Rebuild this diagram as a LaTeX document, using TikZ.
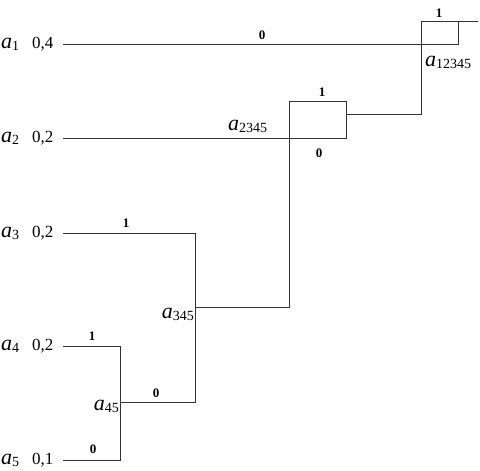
\documentclass[tikz,border=0pt]{standalone}
\usepackage{fontspec}
\setmainfont{Liberation Serif}
\usepackage{tikz}
\usetikzlibrary{positioning}
\newcommand{\av}[1]{{\fontsize{22}{24}\selectfont\itshape a}\raisebox{-2.5pt}{\fontsize{14}{16}\selectfont #1}}
\tikzset{
  leaf/.style={inner sep=0pt,anchor=base west,font=\fontsize{17}{19}\selectfont},
  merge/.style={leaf},
  mergeR/.style={leaf,anchor=base east},
  bit/.style={inner sep=0pt,anchor=base,font=\fontsize{13}{15}\selectfont\bfseries},
  wire/.style={line width=0.9pt,black!80},
}
\begin{document}
\begin{tikzpicture}[x=1pt,y=-1pt]
  \useasboundingbox (0,0) rectangle (480,471);
  % symbols and probabilities
  \node[leaf] (nA1) at (1,48) {\av{1}};
  \node[leaf] (nP1) at (32,48) {0,4};
  \node[leaf] (nA2) at (1,142) {\av{2}};
  \node[leaf] (nP2) at (32,142) {0,2};
  \node[leaf] (nA3) at (1,237) {\av{3}};
  \node[leaf] (nP3) at (32,237) {0,2};
  \node[leaf] (nA4) at (1,350) {\av{4}};
  \node[leaf] (nP4) at (32,350) {0,2};
  \node[leaf] (nA5) at (1,464) {\av{5}};
  \node[leaf] (nP5) at (32,464) {0,1};
  \coordinate (s1) at (63,44);
  \coordinate (s2) at (63,138);
  \coordinate (s3) at (63,233);
  \coordinate (s4) at (63,346);
  \coordinate (s5) at (63,460);
  % merge points
  \coordinate (c45a) at (120,346);
  \coordinate (c45b) at (120,460);
  \coordinate (m45) at (120,402);
  \coordinate (c345a) at (195,233);
  \coordinate (c345b) at (195,402);
  \coordinate (m345) at (195,307);
  \coordinate (b2345) at (289,307);
  \coordinate (t2345) at (289,101);
  \coordinate (tr2345) at (346,101);
  \coordinate (br2345) at (346,138);
  \coordinate (m2345) at (346,114);
  \coordinate (c12345) at (421,114);
  \coordinate (t12345) at (421,21);
  \coordinate (out) at (478,21);
  \coordinate (r1) at (458,44);
  \coordinate (rt1) at (458,21);
  \draw[wire] (s4) -- (c45a) -- (c45b) -- (s5);
  \draw[wire] (m45) -- (c345b) -- (c345a) -- (s3);
  \draw[wire] (m345) -- (b2345) -- (t2345) -- (tr2345) -- (br2345) -- (s2);
  \draw[wire] (m2345) -- (c12345) -- (t12345) -- (out);
  \draw[wire] (s1) -- (r1) -- (rt1);
  % merged symbols
  \node[merge] (nA12345) at (425,66) {\av{12345}};
  \node[merge] (nA2345) at (228,130) {\av{2345}};
  \node[mergeR] (nA345) at (194,318) {\av{345}};
  \node[mergeR] (nA45) at (119,410) {\av{45}};
  % code bits
  \node[bit] (b1) at (262,39) {0};
  \node[bit] (b12345) at (439,17) {1};
  \node[bit] (b2345u) at (322,96) {1};
  \node[bit] (b2345d) at (319,157) {0};
  \node[bit] (b3) at (126,227) {1};
  \node[bit] (b4) at (92,340) {1};
  \node[bit] (b45) at (156,397) {0};
  \node[bit] (b5) at (93,453) {0};
\end{tikzpicture}
\end{document}
